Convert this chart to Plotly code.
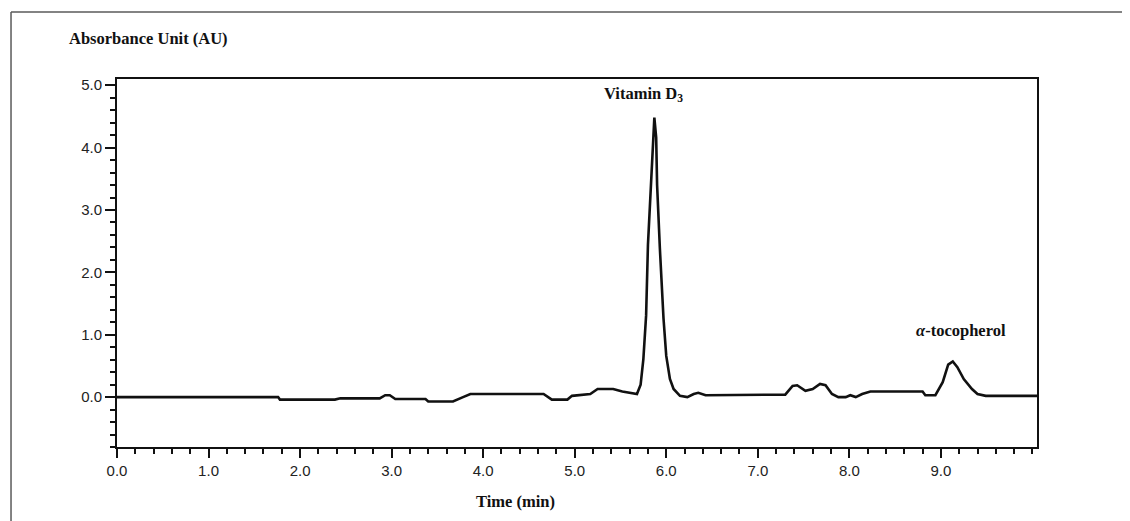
import plotly.graph_objects as go

# Chromatogram trace (time in min, absorbance in AU)
time_min = [0.00, 1.76, 1.78, 2.38, 2.44, 2.87, 2.93, 2.98, 3.04, 3.37, 3.40, 3.67, 3.78, 3.86,
            4.66, 4.75, 4.92, 4.97, 5.17, 5.25, 5.42, 5.52, 5.68, 5.72, 5.75, 5.78, 5.80, 5.84,
            5.86, 5.87, 5.89, 5.90, 5.93, 5.97, 6.00, 6.04, 6.08, 6.15, 6.23, 6.30, 6.35, 6.43,
            7.30, 7.38, 7.43, 7.52, 7.60, 7.68, 7.74, 7.81, 7.88, 7.96, 8.01, 8.07, 8.14, 8.23,
            8.80, 8.83, 8.94, 9.02, 9.08, 9.13, 9.18, 9.25, 9.34, 9.40, 9.49, 10.05]
absorbance = [0.00, 0.00, -0.04, -0.04, -0.02, -0.02, 0.03, 0.03, -0.03, -0.03, -0.07, -0.07, 0.00, 0.05,
              0.05, -0.04, -0.04, 0.02, 0.05, 0.13, 0.13, 0.09, 0.05, 0.20, 0.61, 1.31, 2.44, 3.63,
              4.19, 4.48, 4.16, 3.40, 2.39, 1.26, 0.66, 0.29, 0.13, 0.02, 0.00, 0.05, 0.07, 0.03,
              0.04, 0.18, 0.19, 0.10, 0.13, 0.21, 0.19, 0.05, 0.00, 0.00, 0.03, 0.00, 0.05, 0.09,
              0.09, 0.03, 0.03, 0.24, 0.52, 0.57, 0.48, 0.29, 0.13, 0.05, 0.02, 0.02]

x_tick_vals = [0, 1, 2, 3, 4, 5, 6, 7, 8, 9]
x_tick_text = ["0.0", "1.0", "2.0", "3.0", "4.0", "5.0", "6.0", "7.0", "8.0", "9.0"]
y_tick_vals = [0, 1, 2, 3, 4, 5]
y_tick_text = ["0.0", "1.0", "2.0", "3.0", "4.0", "5.0"]

peak_labels = ["Vitamin D<sub>3</sub>", "<i>α</i>-tocopherol"]
peak_label_pos = [(5.75, 4.86), (9.22, 1.06)]

fig = go.Figure()
fig.add_trace(go.Scatter(x=time_min, y=absorbance, mode="lines",
                         line=dict(color="#111111", width=2.6), showlegend=False,
                         hoverinfo="skip"))

tick_font = dict(family="Liberation Sans, Arial, sans-serif", size=15, color="#222222")
serif_bold = dict(family="Liberation Serif, Times New Roman, serif", size=16.5, color="#111111")

fig.update_xaxes(range=[0, 10.05], showline=True, linecolor="#111111", linewidth=2,
                 mirror=True, showgrid=False, zeroline=False,
                 ticks="outside", ticklen=9, tickwidth=2, tickcolor="#111111",
                 tickvals=x_tick_vals, ticktext=x_tick_text, tickfont=tick_font,
                 minor=dict(ticks="outside", ticklen=5, tickwidth=2, tickcolor="#111111",
                            dtick=0.2, tick0=0, showgrid=False))
fig.update_yaxes(range=[-0.8, 5.1], showline=True, linecolor="#111111", linewidth=2,
                 mirror=True, showgrid=False, zeroline=False,
                 ticks="outside", ticklen=10, tickwidth=2, tickcolor="#111111",
                 tickvals=y_tick_vals, ticktext=y_tick_text, tickfont=tick_font,
                 minor=dict(ticks="outside", ticklen=5, tickwidth=2, tickcolor="#111111",
                            dtick=0.2, tick0=0, showgrid=False))

annotations = []
for txt, (ax, ay) in zip(peak_labels, peak_label_pos):
    annotations.append(dict(x=ax, y=ay, xref="x", yref="y", text="<b>" + txt + "</b>",
                            showarrow=False, font=serif_bold))
annotations.append(dict(x=-0.0548, y=1.111, xref="paper", yref="paper",
                        text="<b>Absorbance Unit (AU)</b>", showarrow=False,
                        xanchor="left", yanchor="middle", font=serif_bold))
annotations.append(dict(x=0.433, y=-0.149, xref="paper", yref="paper",
                        text="<b>Time (min)</b>", showarrow=False,
                        xanchor="center", yanchor="middle", font=serif_bold))

shapes = [
    dict(type="line", xref="paper", yref="paper", x0=-0.1152, x1=1.12, y0=1.182, y1=1.182,
         line=dict(color="#5a5a5a", width=1.5)),
    dict(type="line", xref="paper", yref="paper", x0=-0.1152, x1=-0.1152, y0=1.182, y1=-0.25,
         line=dict(color="#5a5a5a", width=1.5)),
]

# page body adds an 8px offset, so margins are shifted to land the plot where the reference has it
fig.update_layout(width=1130, height=521, paper_bgcolor="white", plot_bgcolor="white",
                  margin=dict(l=109, r=101, t=71, b=82),
                  annotations=annotations, shapes=shapes)

fig.write_html("out.html")
